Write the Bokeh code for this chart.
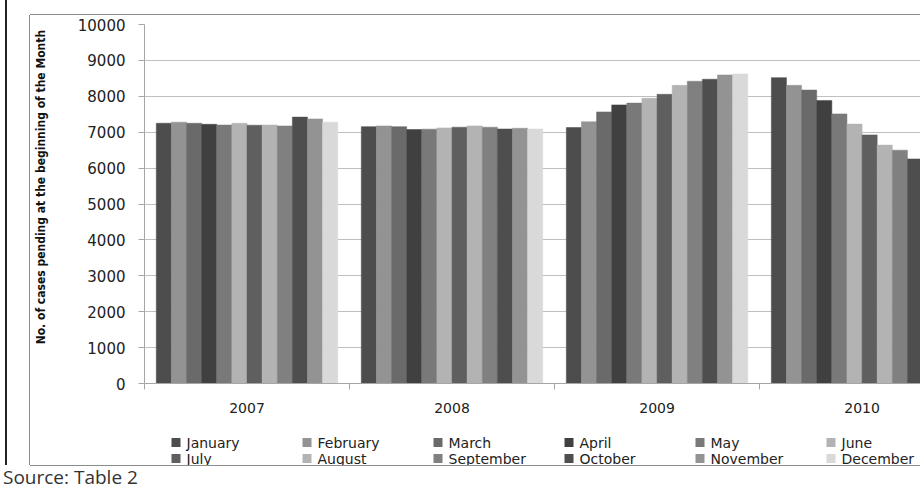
import math
from bokeh.plotting import figure
from bokeh.models import Range1d, FixedTicker, Div
from bokeh.core.properties import value
from bokeh.layouts import column
from bokeh.embed import file_html
from bokeh.resources import INLINE

years = ["2007", "2008", "2009", "2010"]
months = ["January", "February", "March", "April", "May", "June",
          "July", "August", "September", "October", "November", "December"]

pending_2007 = [7250, 7280, 7250, 7220, 7200, 7250, 7195, 7200, 7175, 7420, 7370, 7280]
pending_2008 = [7155, 7175, 7155, 7075, 7085, 7120, 7140, 7175, 7140, 7090, 7110, 7090]
pending_2009 = [7130, 7290, 7565, 7760, 7810, 7945, 8055, 8305, 8420, 8475, 8595, 8620]
pending_2010 = [8520, 8305, 8175, 7880, 7510, 7225, 6925, 6640, 6500, 6255, float("nan"), float("nan")]

y_ticks = [0, 1000, 2000, 3000, 4000, 5000, 6000, 7000, 8000, 9000, 10000]

y_label = "No. of cases pending at the beginning of the Month"
source_note = "Source: Table 2"

month_colors = ["#4d4d4d", "#939393", "#6a6a6a", "#404040", "#797979", "#b3b3b3",
                "#5f5f5f", "#b3b3b3", "#808080", "#4e4e4e", "#939393", "#d9d9d9"]

by_year = [pending_2007, pending_2008, pending_2009, pending_2010]

FIG_W = 890
LEFT = 114
FRAME_W = FIG_W - LEFT

p = figure(width=FIG_W, height=410, output_backend="svg", toolbar_location=None,
           x_range=Range1d(-0.5, 3.285), y_range=Range1d(0, 10000),
           min_border_left=LEFT, min_border_right=0, min_border_top=9, min_border_bottom=42)
p.outline_line_color = None
p.background_fill_color = "white"
p.border_fill_color = "white"

group_frac = 0.885
bar_w = group_frac / len(months)

for m, name in enumerate(months):
    xs = [k + (m - (len(months) - 1) / 2) * bar_w for k in range(len(years))]
    tops = [by_year[k][m] for k in range(len(years))]
    p.vbar(x=xs, top=tops, bottom=0, width=bar_w,
           fill_color=month_colors[m], line_color=month_colors[m], line_width=0.5)

# grid
p.xgrid.visible = False
p.ygrid.grid_line_color = "#bfbfbf"
p.ygrid.grid_line_width = 1

# y axis
yax = p.yaxis[0]
yax.ticker = FixedTicker(ticks=y_ticks, minor_ticks=[])
yax.axis_line_color = "#a6a6a6"
yax.major_tick_line_color = "#a6a6a6"
yax.major_tick_in = 0
yax.major_tick_out = 6
yax.minor_tick_line_color = None
yax.major_label_standoff = 13
yax.major_label_text_font = "DejaVu Sans"
yax.major_label_text_font_size = "15px"
yax.major_label_text_color = "#222222"
# leading no-break spaces nudge the centred label upward, as in the reference
yax.axis_label = "\u00a0" * 9 + y_label
yax.axis_label_text_font = "Liberation Sans Narrow, DejaVu Sans Condensed, sans-serif"
yax.axis_label_text_font_style = "bold"
yax.axis_label_text_font_size = "12px"
yax.axis_label_text_color = "#111111"
yax.axis_label_standoff = 27

# x axis
xax = p.xaxis[0]
xax.ticker = FixedTicker(ticks=list(range(len(years))),
                         minor_ticks=[k - 0.5 for k in range(len(years) + 1)])
xax.major_label_overrides = {i: y for i, y in enumerate(years)}
xax.axis_line_color = "#a6a6a6"
xax.major_tick_in = 0
xax.major_tick_out = 0
xax.major_tick_line_color = None
xax.minor_tick_in = 0
xax.minor_tick_out = 6
xax.minor_tick_line_color = "#a6a6a6"
xax.major_label_standoff = 13
xax.major_label_text_font = "DejaVu Sans"
xax.major_label_text_font_size = "14px"
xax.major_label_text_color = "#222222"

# legend strip (pixel-unit frame, aligned with the chart frame)
LEG_H = 40
pl = figure(width=FIG_W, height=LEG_H, output_backend="svg", toolbar_location=None,
            x_range=Range1d(0, FRAME_W), y_range=Range1d(0, LEG_H),
            min_border_left=LEFT, min_border_right=0, min_border_top=0, min_border_bottom=0,
            x_axis_location=None, y_axis_location=None)
pl.outline_line_color = None
pl.background_fill_color = "white"
pl.border_fill_color = "white"
pl.xgrid.visible = False
pl.ygrid.visible = False

ncol = 6
leg_x0 = 27
pitch = 131
row_y = [23, 7]
sq = 9
sq_left = [leg_x0 + (i % ncol) * pitch for i in range(len(months))]
sq_y = [row_y[i // ncol] for i in range(len(months))]
pl.rect(x=[s + sq / 2 for s in sq_left], y=sq_y, width=sq, height=sq,
        fill_color=month_colors, line_color=None)
pl.text(x=[s + 15 for s in sq_left], y=sq_y, text=months,
        text_baseline="middle", text_align="left",
        text_font=value("DejaVu Sans"), text_font_size="14px", text_color="#222222")

box = column(p, pl, margin=(15, 0, 0, 23),
             styles={"box-shadow": "-1px 0 0 0 #8c8c8c, 0 -1px 0 0 #8c8c8c, 0 1px 0 0 #8c8c8c"})
inner = column(box, margin=(0, 0, 0, 5), styles={"border-left": "2px solid #222222"})
src = Div(text=source_note, width=300, height=20, margin=(2, 0, 0, 3),
          styles={"font-family": "Open Sans", "font-size": "19px",
                  "line-height": "20px", "color": "#333333"})
layout = column(inner, src)

open("out.html", "w").write(file_html(layout, INLINE))
